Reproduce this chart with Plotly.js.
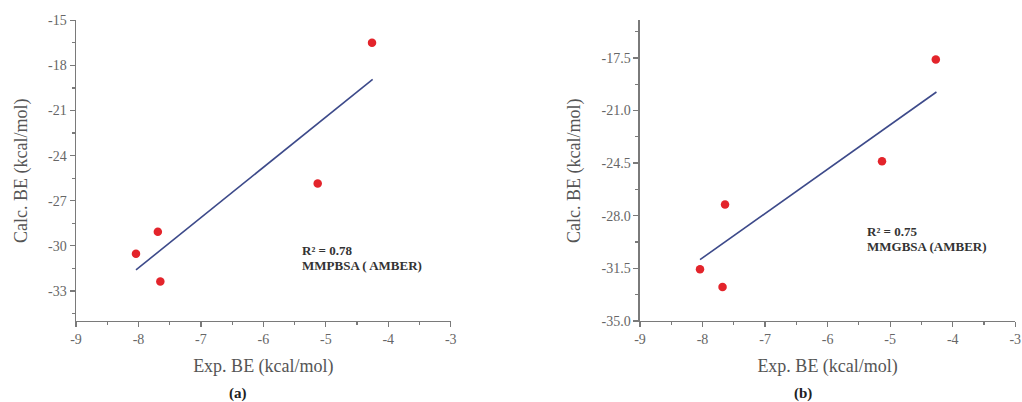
<!DOCTYPE html>
<html>
<head>
<meta charset="utf-8">
<script src="https://cdn.plot.ly/plotly-3.0.1.min.js"></script>
<style>
html,body{margin:0;padding:0;background:#fff;}
#chart{width:1022px;height:402px;}
</style>
</head>
<body>
<div id="chart"></div>
<script>
// Panel (a): MMPBSA (AMBER)
var expA  = [-4.26, -5.13, -7.69, -8.04, -7.65];
var calcA = [-16.49, -25.85, -29.07, -30.53, -32.38];
var fitAx = [-8.04, -4.25];
var fitAy = [-31.6, -18.93];
var labelA = ["R² = 0.78", "MMPBSA ( AMBER)"];

// Panel (b): MMGBSA (AMBER)
var expB  = [-4.27, -5.13, -7.64, -8.04, -7.68];
var calcB = [-17.61, -24.37, -27.25, -31.56, -32.74];
var fitBx = [-8.04, -4.26];
var fitBy = [-30.92, -19.77];
var labelB = ["R² = 0.75", "MMGBSA (AMBER)"];

// Tick values and labels
var xTickVals = [-9, -8, -7, -6, -5, -4, -3];
var xTickText = ["-9", "-8", "-7", "-6", "-5", "-4", "-3"];
var yTickValsA = [-33, -30, -27, -24, -21, -18, -15];
var yTickTextA = ["-33", "-30", "-27", "-24", "-21", "-18", "-15"];
var yTickValsB = [-35, -31.5, -28, -24.5, -21, -17.5];
var yTickTextB = ["-35.0", "-31.5", "-28.0", "-24.5", "-21.0", "-17.5"];

var xTitle = "Exp. BE (kcal/mol)";
var yTitle = "Calc. BE (kcal/mol)";
var captions = ["(a)", "(b)"];

var FONT = "Liberation Serif, Times New Roman, serif";
var markerColor = "#e3242b";
var lineColor = "#3d4a8a";
var axisColor = "#7a7a7a";

var traces = [
  {x: fitAx, y: fitAy, mode: "lines", line: {color: lineColor, width: 1.6}, xaxis: "x", yaxis: "y", hoverinfo: "skip"},
  {x: expA, y: calcA, mode: "markers", marker: {color: markerColor, size: 8.5}, xaxis: "x", yaxis: "y"},
  {x: fitBx, y: fitBy, mode: "lines", line: {color: lineColor, width: 1.6}, xaxis: "x2", yaxis: "y2", hoverinfo: "skip"},
  {x: expB, y: calcB, mode: "markers", marker: {color: markerColor, size: 8.5}, xaxis: "x2", yaxis: "y2"}
];

function xAxis(domain, anchor) {
  return {
    domain: domain, anchor: anchor, range: [-9, -3],
    tickmode: "array", tickvals: xTickVals, ticktext: xTickText,
    showline: true, linecolor: axisColor, linewidth: 1.5, mirror: false,
    showgrid: false, zeroline: false,
    ticks: "outside", ticklen: 5, tickwidth: 1.3, tickcolor: axisColor,
    minor: {dtick: 0.5, tick0: -9, ticks: "outside", ticklen: 3, tickwidth: 1.2, tickcolor: axisColor, showgrid: false},
    tickfont: {family: FONT, size: 14, color: "#666"},
    title: {text: xTitle, font: {family: FONT, size: 18, color: "#555"}, standoff: 13},
    automargin: false
  };
}
function yAxis(domain, anchor, vals, text, minorStep) {
  return {
    domain: domain, anchor: anchor, range: [-35, -15],
    tickmode: "array", tickvals: vals, ticktext: text,
    showline: true, linecolor: axisColor, linewidth: 1.5, mirror: false,
    showgrid: false, zeroline: false,
    ticks: "outside", ticklen: 5, tickwidth: 1.3, tickcolor: axisColor,
    minor: {dtick: minorStep, tick0: -35, ticks: "outside", ticklen: 3, tickwidth: 1.2, tickcolor: axisColor, showgrid: false},
    tickfont: {family: FONT, size: 14, color: "#666"},
    title: {text: yTitle, font: {family: FONT, size: 18, color: "#555"}, standoff: 16},
    automargin: false
  };
}

var yDom = [0.2015, 0.9495];
var xa = xAxis([0.0744, 0.441], "y");
var ya = yAxis(yDom, "x", yTickValsA, yTickTextA, 1.5);
ya.minor.tick0 = -15;
var xb = xAxis([0.6262, 0.9934], "y2");
var yb = yAxis(yDom, "x2", yTickValsB, yTickTextB, 1.75);

var annFont = {family: FONT, size: 13, color: "#333", weight: "bold"};
var annotations = [
  {xref: "x", yref: "y", x: -5.41, y: -30.31, text: "<b>" + labelA[0] + "</b>", showarrow: false, xanchor: "left", yanchor: "middle", font: annFont},
  {xref: "x", yref: "y", x: -5.41, y: -31.31, text: "<b>" + labelA[1] + "</b>", showarrow: false, xanchor: "left", yanchor: "middle", font: annFont},
  {xref: "x2", yref: "y2", x: -5.41, y: -29.03, text: "<b>" + labelB[0] + "</b>", showarrow: false, xanchor: "left", yanchor: "middle", font: annFont},
  {xref: "x2", yref: "y2", x: -5.41, y: -30.05, text: "<b>" + labelB[1] + "</b>", showarrow: false, xanchor: "left", yanchor: "middle", font: annFont},
  {xref: "paper", yref: "paper", x: 238 / 1022, y: 9 / 402, text: "<b>" + captions[0] + "</b>", showarrow: false, xanchor: "center", yanchor: "middle", font: {family: FONT, size: 15, color: "#222"}},
  {xref: "paper", yref: "paper", x: 803 / 1022, y: 9 / 402, text: "<b>" + captions[1] + "</b>", showarrow: false, xanchor: "center", yanchor: "middle", font: {family: FONT, size: 15, color: "#222"}}
];

var layout = {
  width: 1022, height: 402,
  margin: {l: 0, r: 0, t: 0, b: 0},
  paper_bgcolor: "#fff", plot_bgcolor: "#fff",
  showlegend: false,
  xaxis: xa, yaxis: ya, xaxis2: xb, yaxis2: yb,
  annotations: annotations
};

Plotly.newPlot("chart", traces, layout, {displayModeBar: false, staticPlot: true});
</script>
</body>
</html>
